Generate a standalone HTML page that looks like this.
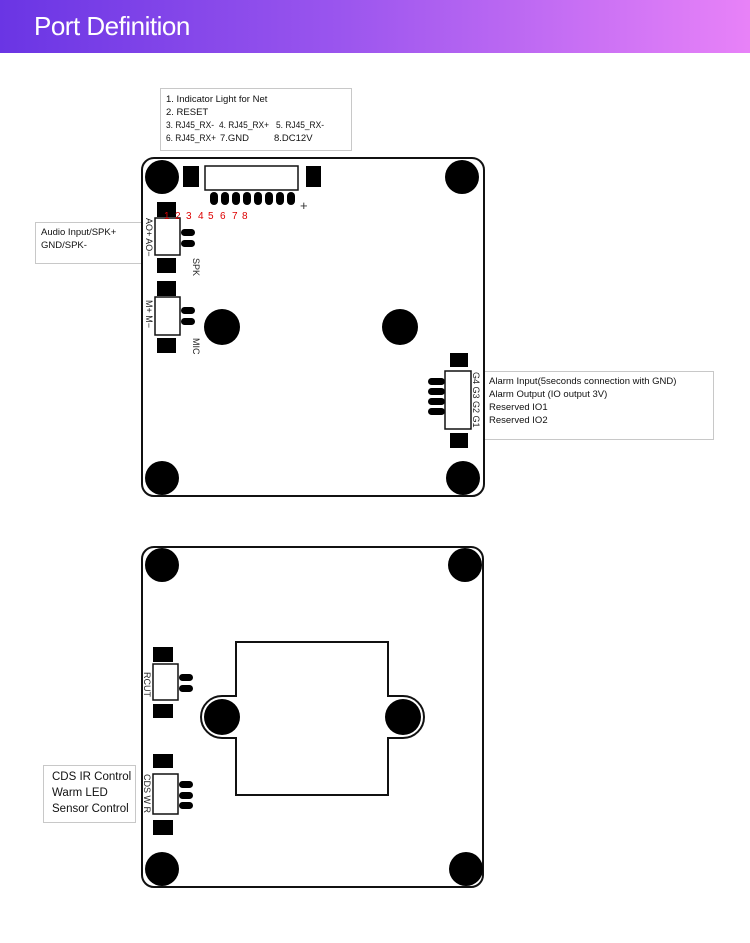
<!DOCTYPE html>
<html><head><meta charset="utf-8"><style>
body{margin:0;width:750px;height:943px;background:#fff;overflow:hidden;font-family:"Liberation Sans",sans-serif}
.hd{position:absolute;left:0;top:0;width:750px;height:53px;background:linear-gradient(90deg,#6a35e4,#9a55ee 45%,#e882f8)}
.hd span{position:absolute;left:34px;top:11px;color:#fff;font-size:26px;letter-spacing:-0.5px;white-space:nowrap}
svg{position:absolute;left:0;top:0}
</style></head><body>
<div class="hd"><span>Port Definition</span></div>
<svg width="750" height="943" viewBox="0 0 750 943" font-family="Liberation Sans, sans-serif">
<g fill="#fff" stroke="#c8c8c8" stroke-width="1">
<rect x="160.5" y="88.5" width="191" height="62"/>
<rect x="35.5" y="222.5" width="107" height="41"/>
<rect x="483.5" y="371.5" width="230" height="68"/>
<rect x="43.5" y="765.5" width="92" height="57"/>
</g>
<g font-size="9.5" fill="#111">
<text x="166" y="102">1. Indicator Light for Net</text>
<text x="166" y="115">2. RESET</text>
<text x="166" y="128" textLength="48" lengthAdjust="spacingAndGlyphs">3. RJ45_RX-</text><text x="219" y="128" textLength="50" lengthAdjust="spacingAndGlyphs">4. RJ45_RX+</text><text x="276" y="128" textLength="48" lengthAdjust="spacingAndGlyphs">5. RJ45_RX-</text>
<text x="166" y="141" textLength="50" lengthAdjust="spacingAndGlyphs">6. RJ45_RX+</text><text x="220" y="141">7.GND</text><text x="274" y="141">8.DC12V</text>
<text x="41" y="235">Audio Input/SPK+</text>
<text x="41" y="248">GND/SPK-</text>
<text x="489" y="384">Alarm Input(5seconds connection with GND)</text>
<text x="489" y="397">Alarm Output (IO output 3V)</text>
<text x="489" y="410">Reserved IO1</text>
<text x="489" y="423">Reserved IO2</text>
</g>
<g font-size="11.5" fill="#111">
<text x="52" y="780">CDS IR Control</text>
<text x="52" y="796">Warm LED</text>
<text x="52" y="812">Sensor Control</text>
</g>
<rect x="142" y="158" width="342" height="338" rx="12" fill="none" stroke="#111" stroke-width="2"/>
<g fill="#000">
<circle cx="162" cy="177" r="17"/><circle cx="462" cy="177" r="17"/>
<circle cx="162" cy="478" r="17"/><circle cx="463" cy="478" r="17"/>
<rect x="183" y="166" width="16" height="21"/><rect x="306" y="166" width="15" height="21"/>
<rect x="157" y="202" width="19" height="15"/><rect x="157" y="258" width="19" height="15"/>
<rect x="157" y="281" width="19" height="15"/><rect x="157" y="338" width="19" height="15"/>
<circle cx="222" cy="327" r="18"/><circle cx="400" cy="327" r="18"/>
<rect x="450" y="353" width="18" height="14"/><rect x="450" y="433" width="18" height="15"/>
<rect x="210" y="192" width="8" height="13" rx="4"/><rect x="221" y="192" width="8" height="13" rx="4"/>
<rect x="232" y="192" width="8" height="13" rx="4"/><rect x="243" y="192" width="8" height="13" rx="4"/>
<rect x="254" y="192" width="8" height="13" rx="4"/><rect x="265" y="192" width="8" height="13" rx="4"/>
<rect x="276" y="192" width="8" height="13" rx="4"/><rect x="287" y="192" width="8" height="13" rx="4"/>
<rect x="181" y="229" width="14" height="7" rx="3.5"/><rect x="181" y="240" width="14" height="7" rx="3.5"/>
<rect x="181" y="307" width="14" height="7" rx="3.5"/><rect x="181" y="318" width="14" height="7" rx="3.5"/>
<rect x="428" y="378" width="17" height="7" rx="3.5"/><rect x="428" y="388" width="17" height="7" rx="3.5"/>
<rect x="428" y="398" width="17" height="7" rx="3.5"/><rect x="428" y="408" width="17" height="7" rx="3.5"/>
</g>
<g fill="#fff" stroke="#111" stroke-width="1.5">
<rect x="205" y="166" width="93" height="24"/>
<rect x="155" y="218" width="25" height="37"/>
<rect x="155" y="297" width="25" height="38"/>
<rect x="445" y="371" width="26" height="58"/>
</g>
<text x="300" y="210" font-size="13" fill="#333">+</text>
<g fill="#d00" font-size="10"><text x="164" y="219">1</text><text x="175" y="219">2</text><text x="186" y="219">3</text><text x="198" y="219">4</text><text x="208" y="219">5</text><text x="220" y="219">6</text><text x="232" y="219">7</text><text x="242" y="219">8</text></g>
<g font-size="9" fill="#222">
<text transform="translate(146,218) rotate(90)">AO+ AO−</text>
<text transform="translate(193,258) rotate(90)">SPK</text>
<text transform="translate(146,300) rotate(90)">M+  M−</text>
<text transform="translate(193,338) rotate(90)">MIC</text>
<text transform="translate(473,372) rotate(90)">G4 G3 G2 G1</text>
</g>
<rect x="142" y="547" width="341" height="340" rx="12" fill="none" stroke="#111" stroke-width="2"/>
<path d="M236,642 H388 V696 H403 A21,21 0 0 1 403,738 H388 V795 H236 V738 H222 A21,21 0 0 1 222,696 H236 Z" fill="none" stroke="#111" stroke-width="2"/>
<g fill="#000">
<circle cx="162" cy="565" r="17"/><circle cx="465" cy="565" r="17"/>
<circle cx="162" cy="869" r="17"/><circle cx="466" cy="869" r="17"/>
<circle cx="222" cy="717" r="18"/><circle cx="403" cy="717" r="18"/>
<rect x="153" y="647" width="20" height="15"/><rect x="153" y="704" width="20" height="14"/>
<rect x="153" y="754" width="20" height="14"/><rect x="153" y="820" width="20" height="15"/>
<rect x="179" y="674" width="14" height="7" rx="3.5"/><rect x="179" y="685" width="14" height="7" rx="3.5"/>
<rect x="179" y="781" width="14" height="7" rx="3.5"/><rect x="179" y="792" width="14" height="7" rx="3.5"/><rect x="179" y="802" width="14" height="7" rx="3.5"/>
</g>
<g fill="#fff" stroke="#111" stroke-width="1.5">
<rect x="153" y="664" width="25" height="36"/>
<rect x="153" y="774" width="25" height="40"/>
</g>
<g font-size="9" fill="#222">
<text transform="translate(144,672) rotate(90)">RCUT</text>
<text transform="translate(144,774) rotate(90)">CDS  W  R</text>
</g>
</svg>
</body></html>
